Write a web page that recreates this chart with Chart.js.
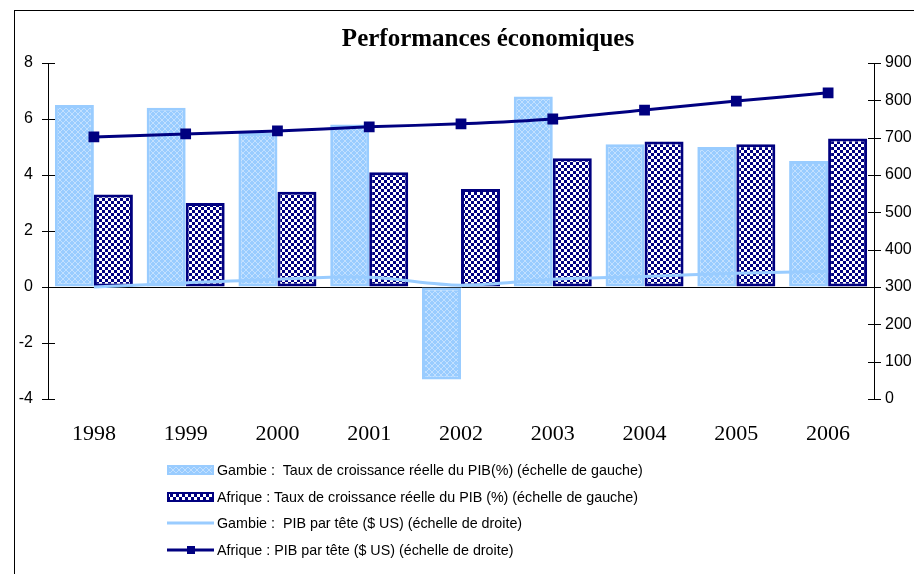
<!DOCTYPE html>
<html lang="fr">
<head>
<meta charset="utf-8">
<title>Performances économiques</title>
<script src="https://cdn.jsdelivr.net/npm/chart.js@4/dist/chart.umd.min.js"></script>
<style>
  html, body { margin: 0; padding: 0; background: #fff; overflow: hidden; }
  body { width: 914px; height: 574px; position: relative; }
  #frame {
    position: absolute; left: 14px; top: 10px;
    width: 1200px; height: 1000px;
    border: 1px solid #000;
  }
  #chart-perf { position: absolute; left: 0; top: 0; }
  #legend {
    position: absolute; left: 167px; top: 457px;
    font-family: "Liberation Sans", Arial, sans-serif;
    font-size: 14.3px; color: #000;
  }
  .legend-row { height: 26.5px; display: flex; align-items: center; white-space: pre; }
  .legend-row canvas { margin-right: 3px; }
</style>
</head>
<body>
<div id="frame"></div>
<!-- la zone de tracé dépasse à droite : les libellés de droite sont rognés comme dans l'original -->
<canvas id="chart-perf" width="976" height="574"></canvas>
<div id="legend"></div>

<script>
/* ================================================
   Performances économiques — Gambie / Afrique
   barres : croissance (%) ; lignes : PIB par tête
   ================================================ */

const years = ['1998', '1999', '2000', '2001', '2002', '2003', '2004', '2005', '2006'];

// Taux de croissance réelle du PIB (%) — échelle de gauche
const gambieCroissance  = [6.5, 6.4, 5.5, 5.8, -3.3, 6.8, 5.1, 5.0, 4.5];
const afriqueCroissance = [3.3, 3.0, 3.4, 4.1, 3.5, 4.6, 5.2, 5.1, 5.3];

// PIB par tête ($ US) — échelle de droite
const gambiePib  = [300, 311, 321, 326, 305, 321, 328, 337, 342];
const afriquePib = [702, 710, 718, 729, 737, 750, 774, 798, 820];

// graduations
const leftTicks  = [-4, -2, 0, 2, 4, 6, 8];
const rightTicks = [0, 100, 200, 300, 400, 500, 600, 700, 800, 900];

const labels = [
  'Gambie :  Taux de croissance réelle du PIB(%) (échelle de gauche)',
  'Afrique : Taux de croissance réelle du PIB (%) (échelle de gauche)',
  'Gambie :  PIB par tête ($ US) (échelle de droite)',
  'Afrique : PIB par tête ($ US) (échelle de droite)'
];

const LIGHT = '#99CCFF';
const NAVY = '#000080';

/**
 * Motif de remplissage (tuile répétée)
 */
function makePattern(size, drawTile) {
  const c = document.createElement('canvas');
  c.width = c.height = size;
  const g = c.getContext('2d');
  drawTile(g, size);
  return g.createPattern(c, 'repeat');
}

// treillis blanc sur bleu clair
const gambieFill = makePattern(6, (g, s) => {
  g.fillStyle = LIGHT;
  g.fillRect(0, 0, s, s);
  g.fillStyle = 'rgba(255,255,255,0.4)';
  for (let i = 0; i < s; i++) {
    g.fillRect(i, i, 1, 1);
    g.fillRect(s - 1 - i, i, 1, 1);
  }
});

// damier bleu marine / blanc
const afriqueFill = makePattern(6, (g) => {
  g.fillStyle = '#fff';
  g.fillRect(0, 0, 6, 6);
  g.fillStyle = NAVY;
  g.fillRect(0, 0, 3, 3);
  g.fillRect(3, 3, 3, 3);
});

/**
 * Graduations croisées sur les deux axes verticaux
 */
const crossTicks = {
  id: 'crossTicks',
  afterDraw(chart) {
    const ctx = chart.ctx;
    ctx.save();
    ctx.strokeStyle = '#000';
    ctx.lineWidth = 1;
    ['y', 'y1'].forEach(id => {
      const s = chart.scales[id];
      const x = Math.round(id === 'y' ? s.right : s.left);
      s.ticks.forEach(t => {
        const py = Math.round(s.getPixelForValue(t.value)) + 0.5;
        ctx.beginPath();
        ctx.moveTo(x - 6, py);
        ctx.lineTo(x + 7, py);
        ctx.stroke();
      });
    });
    ctx.restore();
  }
};

const chart = new Chart(document.getElementById('chart-perf'), {
  data: {
    labels: years,
    datasets: [
      {
        type: 'bar',
        label: labels[0],
        data: gambieCroissance,
        backgroundColor: gambieFill,
        borderColor: LIGHT,
        borderWidth: 3,
        borderSkipped: false,
        yAxisID: 'y',
        order: 2
      },
      {
        type: 'bar',
        label: labels[1],
        data: afriqueCroissance,
        backgroundColor: afriqueFill,
        borderColor: NAVY,
        borderWidth: 3,
        borderSkipped: false,
        yAxisID: 'y',
        order: 2
      },
      {
        type: 'line',
        label: labels[2],
        data: gambiePib,
        borderColor: LIGHT,
        backgroundColor: LIGHT,
        borderWidth: 3,
        pointRadius: 0,
        tension: 0.35,
        yAxisID: 'y1',
        order: 1
      },
      {
        type: 'line',
        label: labels[3],
        data: afriquePib,
        borderColor: NAVY,
        backgroundColor: NAVY,
        borderWidth: 3,
        pointStyle: 'rect',
        pointRadius: 5.5,
        tension: 0.2,
        yAxisID: 'y1',
        order: 0
      }
    ]
  },
  options: {
    responsive: false,
    animation: false,
    layout: { padding: { left: 0, right: 0, top: 0, bottom: 125 } },
    datasets: {
      bar: { categoryPercentage: 0.85, barPercentage: 1.0 }
    },
    plugins: {
      legend: { display: false },
      tooltip: { enabled: false },
      title: {
        display: true,
        text: 'Performances économiques',
        color: '#000',
        font: { family: '"Liberation Serif", "Times New Roman", serif', size: 25, weight: 'bold', lineHeight: 1.2 },
        padding: { top: 25, bottom: 8 }
      }
    },
    scales: {
      x: {
        grid: { display: false, drawTicks: false },
        border: { display: false },
        ticks: {
          color: '#000',
          padding: 22,
          font: { family: '"Liberation Serif", "Times New Roman", serif', size: 22 }
        },
        afterFit: s => { s.height = 50; }
      },
      y: {
        position: 'left',
        min: -4,
        max: 8,
        afterBuildTicks: s => { s.ticks = leftTicks.map(v => ({ value: v })); },
        grid: {
          drawTicks: false,
          color: ctx => (ctx.tick && ctx.tick.value === 0 ? '#000' : 'rgba(0,0,0,0)'),
          lineWidth: 1
        },
        border: { display: true, color: '#000', width: 1 },
        ticks: {
          color: '#000',
          padding: 15,
          font: { family: '"Liberation Sans", Arial, sans-serif', size: 16 }
        },
        afterFit: s => { s.width = 48; }
      },
      y1: {
        position: 'right',
        min: 0,
        max: 900,
        afterBuildTicks: s => { s.ticks = rightTicks.map(v => ({ value: v })); },
        grid: { display: false, drawTicks: false },
        border: { display: true, color: '#000', width: 1 },
        ticks: {
          color: '#000',
          padding: 11,
          font: { family: '"Liberation Sans", Arial, sans-serif', size: 16 }
        },
        afterFit: s => { s.width = 102; }
      }
    }
  },
  plugins: [crossTicks]
});

/**
 * Légende HTML construite à partir des séries
 */
function renderLegend() {
  const el = document.getElementById('legend');
  chart.data.datasets.forEach(ds => {
    const row = document.createElement('div');
    row.className = 'legend-row';
    const sw = document.createElement('canvas');
    sw.width = 47;
    sw.height = 12;
    const g = sw.getContext('2d');
    if (ds.type === 'bar') {
      g.fillStyle = ds.backgroundColor;
      g.fillRect(0, 1, 47, 10);
      g.strokeStyle = ds.borderColor;
      g.lineWidth = 2;
      g.strokeRect(1, 2, 45, 8);
    } else {
      g.strokeStyle = ds.borderColor;
      g.lineWidth = 3;
      g.beginPath();
      g.moveTo(0, 6);
      g.lineTo(47, 6);
      g.stroke();
      if (ds.pointStyle === 'rect') {
        g.fillStyle = ds.borderColor;
        g.fillRect(20, 2, 8, 8);
      }
    }
    row.appendChild(sw);
    row.appendChild(document.createTextNode(ds.label));
    el.appendChild(row);
  });
}

renderLegend();
</script>
</body>
</html>
